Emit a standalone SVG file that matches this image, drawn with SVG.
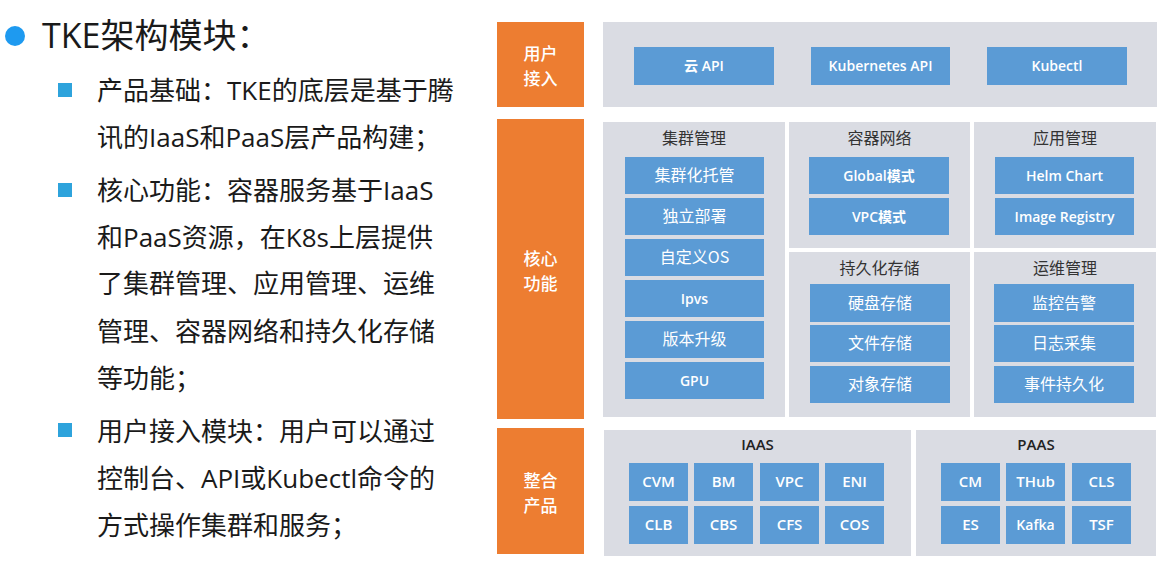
<svg xmlns="http://www.w3.org/2000/svg" width="1168" height="569" viewBox="0 0 1168 569">
  <style>
    .txt { font-family: "Open Sans", "Noto Sans CJK SC", sans-serif; fill: #1a1a1a; }
    .title { font-size: 34px; }
    .body { font-size: 26px; }
    .orange { fill: #ED7D31; }
    .olabel { font-family: "Noto Sans CJK SC", sans-serif; font-size: 17px; font-weight: 500; fill: #ffffff; text-anchor: middle; }
    .panel { fill: #DADCE3; }
    .ptitle { font-family: "Noto Sans CJK SC", sans-serif; font-size: 16px; fill: #333333; text-anchor: middle; }
    .ltitle { font-family: "Open Sans", "Noto Sans CJK SC", sans-serif; font-size: 15px; font-weight: 600; fill: #222222; text-anchor: middle; }
    .item { fill: #5B9BD5; }
    .ilabel { font-family: "Open Sans", "Noto Sans CJK SC", sans-serif; font-size: 15px; font-weight: 600; fill: #ffffff; text-anchor: middle; }
    .ilabel-s { font-family: "Open Sans", "Noto Sans CJK SC", sans-serif; font-size: 14px; font-weight: 600; fill: #ffffff; text-anchor: middle; }
    .cjk { font-family: "Noto Sans CJK SC", sans-serif; font-size: 16px; font-weight: normal; fill: #ffffff; text-anchor: middle; }
    .sq { fill: #2EA3DC; }
  </style>
  <rect x="0" y="0" width="1168" height="569" fill="#ffffff"/>

  <!-- Left text -->
  <g id="left-text">
    <circle cx="15" cy="36" r="10" fill="#1E9AF0"/>
    <text class="txt title" x="42" y="48">TKE架构模块：</text>
    <rect class="sq" x="58" y="83" width="14" height="14"/>
    <rect class="sq" x="58" y="183" width="14" height="14"/>
    <rect class="sq" x="58" y="423" width="14" height="14"/>
    <text class="txt body" x="97" y="99.5">产品基础：TKE的底层是基于腾</text>
    <text class="txt body" x="97" y="146.5">讯的IaaS和PaaS层产品构建；</text>
    <text class="txt body" x="97" y="199.5">核心功能：容器服务基于IaaS</text>
    <text class="txt body" x="97" y="246.5">和PaaS资源，在K8s上层提供</text>
    <text class="txt body" x="97" y="292.5">了集群管理、应用管理、运维</text>
    <text class="txt body" x="97" y="340.5">管理、容器网络和持久化存储</text>
    <text class="txt body" x="97" y="387.5">等功能；</text>
    <text class="txt body" x="97" y="440.5">用户接入模块：用户可以通过</text>
    <text class="txt body" x="97" y="487.5">控制台、API或Kubectl命令的</text>
    <text class="txt body" x="97" y="534.5">方式操作集群和服务；</text>
  </g>

  <!-- Row labels -->
  <g id="label-user-access">
    <rect class="orange" x="497" y="22" width="87" height="85"/>
    <text class="olabel" x="540.5" y="60">用户</text>
    <text class="olabel" x="540.5" y="85">接入</text>
  </g>
  <g id="label-core">
    <rect class="orange" x="497" y="119" width="87" height="300"/>
    <text class="olabel" x="540.5" y="265">核心</text>
    <text class="olabel" x="540.5" y="290">功能</text>
  </g>
  <g id="label-products">
    <rect class="orange" x="497" y="428" width="87" height="126"/>
    <text class="olabel" x="540.5" y="487">整合</text>
    <text class="olabel" x="540.5" y="512">产品</text>
  </g>

  <!-- User access panel -->
  <g id="panel-access">
    <rect class="panel" x="603" y="22" width="554" height="85"/>
  </g>
  <g id="node-cloud-api">
    <rect class="item" x="634" y="47" width="140" height="38"/>
    <text class="ilabel-s" x="704" y="71">云 API</text>
  </g>
  <g id="node-k8s-api">
    <rect class="item" x="811" y="47" width="139" height="38"/>
    <text class="ilabel-s" x="880.5" y="71">Kubernetes API</text>
  </g>
  <g id="node-kubectl">
    <rect class="item" x="987" y="47" width="140" height="38"/>
    <text class="ilabel-s" x="1057" y="71">Kubectl</text>
  </g>

  <!-- Cluster management -->
  <g id="panel-cluster">
    <rect class="panel" x="603" y="122" width="182" height="295"/>
    <text class="ptitle" x="694" y="144">集群管理</text>
    <rect class="item" x="625" y="157" width="139" height="37"/>
    <text class="cjk" x="694.5" y="181">集群化托管</text>
    <rect class="item" x="625" y="198" width="139" height="37"/>
    <text class="cjk" x="694.5" y="222">独立部署</text>
    <rect class="item" x="625" y="239" width="139" height="37"/>
    <text class="cjk" x="694.5" y="263">自定义OS</text>
    <rect class="item" x="625" y="280" width="139" height="37"/>
    <text class="ilabel-s" x="694.5" y="304">Ipvs</text>
    <rect class="item" x="625" y="321" width="139" height="37"/>
    <text class="cjk" x="694.5" y="345">版本升级</text>
    <rect class="item" x="625" y="362" width="139" height="37"/>
    <text class="ilabel-s" x="694.5" y="386">GPU</text>
  </g>

  <!-- Container network -->
  <g id="panel-network">
    <rect class="panel" x="789" y="122" width="181" height="126"/>
    <text class="ptitle" x="879.5" y="144">容器网络</text>
    <rect class="item" x="809" y="157" width="140" height="37"/>
    <text class="ilabel-s" x="879" y="181">Global模式</text>
    <rect class="item" x="809" y="198" width="140" height="37"/>
    <text class="ilabel-s" x="879" y="222">VPC模式</text>
  </g>

  <!-- App management -->
  <g id="panel-app">
    <rect class="panel" x="974" y="122" width="182" height="126"/>
    <text class="ptitle" x="1065" y="144">应用管理</text>
    <rect class="item" x="995" y="157" width="139" height="37"/>
    <text class="ilabel-s" x="1064.5" y="181">Helm Chart</text>
    <rect class="item" x="995" y="198" width="139" height="37"/>
    <text class="ilabel-s" x="1064.5" y="222">Image Registry</text>
  </g>

  <!-- Persistent storage -->
  <g id="panel-storage">
    <rect class="panel" x="789" y="252" width="181" height="165"/>
    <text class="ptitle" x="879.5" y="274">持久化存储</text>
    <rect class="item" x="810" y="284" width="140" height="38"/>
    <text class="cjk" x="880" y="309">硬盘存储</text>
    <rect class="item" x="810" y="325" width="140" height="37"/>
    <text class="cjk" x="880" y="349">文件存储</text>
    <rect class="item" x="810" y="366" width="140" height="37"/>
    <text class="cjk" x="880" y="390">对象存储</text>
  </g>

  <!-- Ops management -->
  <g id="panel-ops">
    <rect class="panel" x="974" y="252" width="182" height="165"/>
    <text class="ptitle" x="1065" y="274">运维管理</text>
    <rect class="item" x="994" y="284" width="140" height="38"/>
    <text class="cjk" x="1064" y="309">监控告警</text>
    <rect class="item" x="994" y="325" width="140" height="37"/>
    <text class="cjk" x="1064" y="349">日志采集</text>
    <rect class="item" x="994" y="366" width="140" height="37"/>
    <text class="cjk" x="1064" y="390">事件持久化</text>
  </g>

  <!-- IAAS -->
  <g id="panel-iaas">
    <rect class="panel" x="604" y="430" width="307" height="126"/>
    <text class="ltitle" x="757.5" y="450">IAAS</text>
    <rect class="item" x="629" y="463" width="59" height="38"/>
    <text class="ilabel" x="658.5" y="487">CVM</text>
    <rect class="item" x="694" y="463" width="59" height="38"/>
    <text class="ilabel" x="723.5" y="487">BM</text>
    <rect class="item" x="760" y="463" width="59" height="38"/>
    <text class="ilabel" x="789.5" y="487">VPC</text>
    <rect class="item" x="825" y="463" width="59" height="38"/>
    <text class="ilabel" x="854.5" y="487">ENI</text>
    <rect class="item" x="629" y="506" width="59" height="38"/>
    <text class="ilabel" x="658.5" y="530">CLB</text>
    <rect class="item" x="694" y="506" width="59" height="38"/>
    <text class="ilabel" x="723.5" y="530">CBS</text>
    <rect class="item" x="760" y="506" width="59" height="38"/>
    <text class="ilabel" x="789.5" y="530">CFS</text>
    <rect class="item" x="825" y="506" width="59" height="38"/>
    <text class="ilabel" x="854.5" y="530">COS</text>
  </g>

  <!-- PAAS -->
  <g id="panel-paas">
    <rect class="panel" x="916" y="430" width="240" height="126"/>
    <text class="ltitle" x="1036" y="450">PAAS</text>
    <rect class="item" x="941" y="463" width="59" height="38"/>
    <text class="ilabel" x="970.5" y="487">CM</text>
    <rect class="item" x="1006" y="463" width="59" height="38"/>
    <text class="ilabel" x="1035.5" y="487">THub</text>
    <rect class="item" x="1072" y="463" width="59" height="38"/>
    <text class="ilabel" x="1101.5" y="487">CLS</text>
    <rect class="item" x="941" y="506" width="59" height="38"/>
    <text class="ilabel" x="970.5" y="530">ES</text>
    <rect class="item" x="1006" y="506" width="59" height="38"/>
    <text class="ilabel-s" x="1035.5" y="530">Kafka</text>
    <rect class="item" x="1072" y="506" width="59" height="38"/>
    <text class="ilabel" x="1101.5" y="530">TSF</text>
  </g>

  <g id="connectors"></g>
</svg>
